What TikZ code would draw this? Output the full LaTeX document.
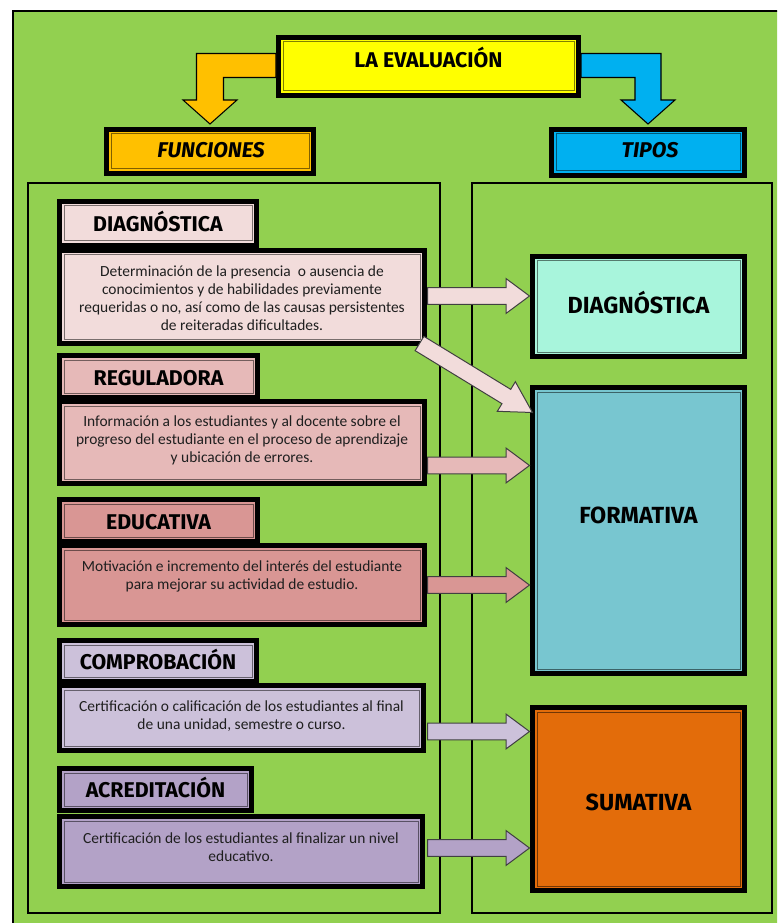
\documentclass[tikz,border=0pt]{standalone}
\usepackage{fontspec}
\setmainfont{Carlito}
\newfontfamily\headfont{Fira Sans}
\usetikzlibrary{calc}

\definecolor{bggreen}{HTML}{92D050}
\definecolor{evyellow}{HTML}{FFFF00}
\definecolor{fnorange}{HTML}{FFC000}
\definecolor{tpblue}{HTML}{00B0F0}
\definecolor{cone}{HTML}{F2DCDB}
\definecolor{ctwo}{HTML}{E6B9B8}
\definecolor{cthree}{HTML}{D99694}
\definecolor{cfour}{HTML}{CCC1DA}
\definecolor{cfive}{HTML}{B3A2C7}
\definecolor{cdiag}{HTML}{A8F5DC}
\definecolor{cform}{HTML}{78C6D0}
\definecolor{csum}{HTML}{E36C0A}

% framed box: name, x1, y1, x2, y2 (outer edges, px), fill colour
\newcommand\boxat[6]{%
  \node[boxframe, fill=#6,
        minimum width={(#4-#2-5)*0.75pt},
        minimum height={(#5-#3-5)*0.75pt}] (#1) at ({(#2+#4)/2},{(#3+#5)/2}) {};
  \draw[line width=0.75pt, draw=#6!50!black]
        ($(#1.north west)+(4.5,4.5)$) rectangle ($(#1.south east)+(-4.5,-4.5)$);
}

% block arrow: [head length], fill colour, from, to
\newcommand\blockarrow[4][17.5pt]{%
  \path (#3) coordinate (ba-a) (#4) coordinate (ba-b);
  \path ($(ba-b)!#1!(ba-a)$) coordinate (ba-h);
  \draw[arrowline, fill=#2]
    ($(ba-a)!6.3pt!90:(ba-b)$) -- ($(ba-h)!6.3pt!90:(ba-b)$) --
    ($(ba-h)!13pt!90:(ba-b)$) -- (ba-b) --
    ($(ba-h)!13pt!-90:(ba-b)$) -- ($(ba-h)!6.3pt!-90:(ba-b)$) --
    ($(ba-a)!6.3pt!-90:(ba-b)$) -- cycle;
}

\begin{document}
\begin{tikzpicture}[x=0.75pt, y=-0.75pt,
  panel/.style={draw=black, line width=1.6pt},
  boxframe/.style={draw=black, line width=3.75pt, inner sep=0pt, outer sep=0pt},
  heading/.style={anchor=base, inner sep=0pt, font=\headfont\bfseries\fontsize{16pt}{18pt}\selectfont},
  tophead/.style={anchor=base, inner sep=0pt, font=\headfont\bfseries\itshape\fontsize{16pt}{18pt}\selectfont},
  typehead/.style={anchor=base, inner sep=0pt, font=\headfont\bfseries\fontsize{17.5pt}{20pt}\selectfont},
  desc/.style={inner sep=0pt, align=center, text=black!88, font=\fontsize{11.6pt}{13.5pt}\selectfont},
  arrowline/.style={draw=black!75, line width=0.75pt, line join=miter},
  bentarrow/.style={draw=black, line width=0.8pt, line join=miter},
]
\useasboundingbox (0,0) rectangle (777,923);
\clip (0,0) rectangle (777,923);
\fill[white] (0,0) rectangle (777,923);

% background sheet and the two columns
\draw[fill=bggreen, line width=1.6pt] (13,11) rectangle (800,950);
\draw[panel] (28,183) rectangle (440,913);
\draw[panel] (472,183) rectangle (772,913);

% top level
\boxat{ev}{276}{35}{581}{98}{evyellow}
\node[heading] (evt) at ($(ev.center)+(0,1.5)$) {LA EVALUACIÓN};
\boxat{fn}{104}{127}{316}{176}{fnorange}
\node[tophead] (fnt) at ($(fn.center)+(1,6.5)$) {FUNCIONES};
\boxat{tp}{549}{127}{747}{178}{tpblue}
\node[tophead] (tpt) at ($(tp.center)+(2,5.5)$) {TIPOS};

% bent arrows from the title
\draw[bentarrow, fill=fnorange]
  ($(ev.west)+(-2.5,-13)$) -- ($(ev.west -| fn.north)+(-13.5,-13)$) --
  ($(fn.north)+(-13.5,-29.5)$) -- ($(fn.north)+(-27,-29.5)$) --
  ($(fn.north)+(0,-5.5)$) -- ($(fn.north)+(27,-29.5)$) --
  ($(fn.north)+(13.5,-29.5)$) -- ($(ev.west -| fn.north)+(13.5,11)$) --
  ($(ev.west)+(-2.5,11)$) -- cycle;
\draw[bentarrow, fill=tpblue]
  ($(ev.east)+(2.5,-13)$) -- ($(ev.east -| tp.north)+(13,-13)$) --
  ($(tp.north)+(13,-29.5)$) -- ($(tp.north)+(27,-29.5)$) --
  ($(tp.north)+(0,-5.5)$) -- ($(tp.north)+(-27,-29.5)$) --
  ($(tp.north)+(-13,-29.5)$) -- ($(ev.east -| tp.north)+(-13,11)$) --
  ($(ev.east)+(2.5,11)$) -- cycle;

% functions column
\boxat{h1}{57}{199}{259}{248}{cone}
\node[heading] (h1t) at ($(h1.center)+(0,8.5)$) {DIAGNÓSTICA};
\boxat{d1}{57}{248}{427}{346}{cone}
\node[desc] (d1t) at ($(d1.center)+(0,1)$) {Determinación de la presencia\ \ o ausencia de\\conocimientos y de habilidades previamente\\requeridas o no, así como de las causas persistentes\\de reiteradas dificultades.};

\boxat{h2}{57}{353}{260}{400}{ctwo}
\node[heading] (h2t) at ($(h2.center)+(0,8.5)$) {REGULADORA};
\boxat{d2}{57}{399}{427}{486}{ctwo}
\node[desc] (d2t) at ($(d2.center)+(0,-2.5)$) {Información a los estudiantes y al docente sobre el\\progreso del estudiante en el proceso de aprendizaje\\y ubicación de errores.};

\boxat{h3}{57}{497}{260}{544}{cthree}
\node[heading] (h3t) at ($(h3.center)+(0,8.5)$) {EDUCATIVA};
\boxat{d3}{57}{543}{427}{627}{cthree}
\node[desc] (d3t) at ($(d3.center)+(0,-9)$) {Motivación e incremento del interés del estudiante\\para mejorar su actividad de estudio.};

\boxat{h4}{57}{638}{259}{684}{cfour}
\node[heading] (h4t) at ($(h4.center)+(0,8)$) {COMPROBACIÓN};
\boxat{d4}{57}{683}{426}{753}{cfour}
\node[desc] (d4t) at ($(d4.center)+(0,-1.5)$) {Certificación o calificación de los estudiantes al final\\de una unidad, semestre o curso.};

\boxat{h5}{57}{766}{254}{813}{cfive}
\node[heading] (h5t) at ($(h5.center)+(0,7.5)$) {ACREDITACIÓN};
\boxat{d5}{57}{814}{425}{889}{cfive}
\node[desc] (d5t) at ($(d5.center)+(0,-4.5)$) {Certificación de los estudiantes al finalizar un nivel\\educativo.};

% types column
\boxat{dg}{530}{254}{747}{359}{cdiag}
\node[typehead] (dgt) at ($(dg.center)+(0,6.5)$) {DIAGNÓSTICA};
\boxat{fm}{530}{385}{747}{676}{cform}
\node[typehead] (fmt) at ($(fm.center)+(0,-7.5)$) {FORMATIVA};
\boxat{sm}{530}{705}{747}{893}{csum}
\node[typehead] (smt) at ($(sm.center)+(0,11)$) {SUMATIVA};

% connectors between functions and types
\coordinate (a1s) at ($(d1.east)+(3,-1)$);
\blockarrow{cone}{a1s}{$(a1s -| dg.west)+(-3,0)$}
\coordinate (a6s) at ($(d1.south east)+(-5,0)$);
\blockarrow[23pt]{cone}{a6s}{$(fm.north west)+(0,25)$}
\coordinate (a2s) at ($(d2.east)+(3,23)$);
\blockarrow{ctwo}{a2s}{$(a2s -| fm.west)+(-3,0)$}
\coordinate (a3s) at ($(d3.east)+(3,0)$);
\blockarrow{cthree}{a3s}{$(a3s -| fm.west)+(-3,0)$}
\coordinate (a4s) at ($(d4.east)+(4,13.5)$);
\blockarrow{cfour}{a4s}{$(a4s -| sm.west)+(-3,0)$}
\coordinate (a5s) at ($(d5.east)+(5,-3.5)$);
\blockarrow{cfive}{a5s}{$(a5s -| sm.west)+(-3,0)$}
\end{tikzpicture}
\end{document}
